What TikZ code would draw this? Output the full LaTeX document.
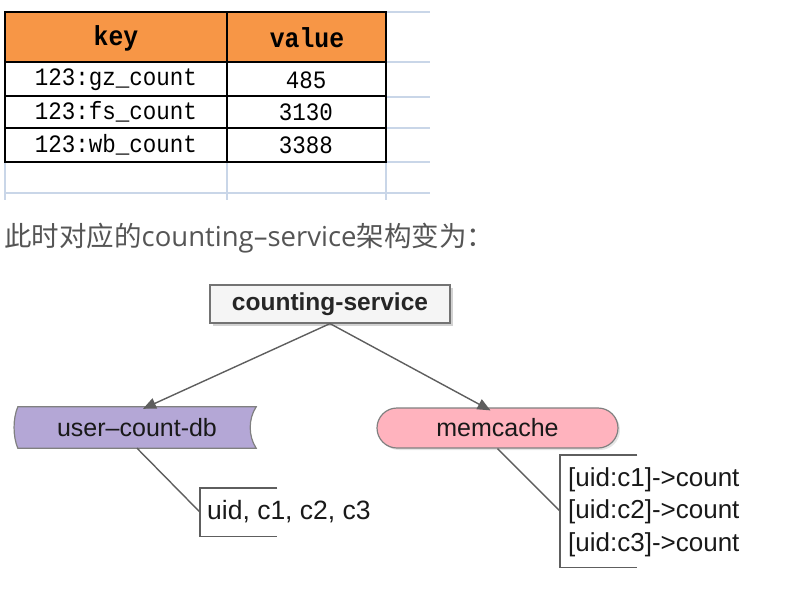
\documentclass[tikz,border=0pt]{standalone}
\usepackage{fontspec}
\setmainfont{Liberation Sans}
\newfontfamily\cjk{Noto Sans CJK SC}
\newfontfamily\capl{Open Sans}
\newfontfamily\monof[FakeStretch=0.9]{Liberation Mono}
\usetikzlibrary{arrows.meta,shadows,backgrounds}
\definecolor{hdr}{HTML}{F79646}
\definecolor{gridc}{HTML}{C9D6E8}
\definecolor{dbfill}{HTML}{B4A7D6}
\definecolor{mcfill}{HTML}{FFB3BE}
\definecolor{lnc}{HTML}{5E5E5E}
\definecolor{txtc}{HTML}{555555}
\tikzset{
  gridline/.style={draw=gridc,line width=1.5pt},
  tabouter/.style={draw=black,line width=2.6pt},
  tabinner/.style={draw=black,line width=1.4pt},
  hcell/.style={font=\monof\bfseries\fontsize{27.5}{27.5}\selectfont,inner sep=0pt},
  bcell/.style={font=\monof\fontsize{25}{25}\selectfont,inner sep=0pt},
  conn/.style={draw=lnc,line width=1.4pt},
  arr/.style={conn,-{Triangle[length=13pt,width=11pt]}},
  bracket/.style={draw=lnc,line width=1.4pt},
  dtext/.style={font=\fontsize{25}{25}\selectfont,text=black!90,inner sep=0pt},
}
\begin{document}
\begin{tikzpicture}[x=1pt,y=-1pt]
\useasboundingbox (0,0) rectangle (808,594);
% spreadsheet grid
\draw[gridline] (386,12) -- (430,12);
\draw[gridline] (386,62) -- (430,62);
\draw[gridline] (386,97) -- (430,97);
\draw[gridline] (386,128) -- (430,128);
\draw[gridline] (386,162) -- (430,162);
\draw[gridline] (5,193) -- (430,193);
\draw[gridline] (5,162) -- (5,200);
\draw[gridline] (227,162) -- (227,200);
\draw[gridline] (386,162) -- (386,200);
% table
\fill[hdr] (5,12) rectangle (386,62);
\draw[tabinner] (227,12) -- (227,162);
\draw[tabinner] (5,62) -- (386,62);
\draw[tabinner] (5,96) -- (386,96);
\draw[tabinner] (5,128) -- (386,128);
\draw[tabouter] (5,12) rectangle (386,162);
\node[hcell] (k0) at (116,38) {key};
\node[hcell] (v0) at (307,38) {value};
\node[bcell] (k1) at (116,80) {123:gz\_count};
\node[bcell] (v1) at (306,80) {485};
\node[bcell] (k2) at (116,112) {123:fs\_count};
\node[bcell] (v2) at (306,112) {3130};
\node[bcell] (k3) at (116,145) {123:wb\_count};
\node[bcell] (v3) at (306,145) {3388};
% caption line
\node[anchor=west,inner sep=0pt,text=txtc,font=\cjk\fontsize{27.5}{27.5}\selectfont] (cap) at (4,238)
  {此时对应的{\capl counting–service}架构变为：};
% diagram
\node[draw=black!55,line width=1.2pt,fill=black!4,minimum width=240pt,minimum height=38pt,inner sep=0pt,
  font=\bfseries\fontsize{24.5}{24.5}\selectfont,text=black!85,
  drop shadow={shadow xshift=2.5pt,shadow yshift=-2.5pt,fill=black!35}] (cs) at (330,304) {counting-service};
\node[dtext,minimum width=238pt,minimum height=41pt] (udb) at (137,427.5) {user–count-db};
\node[dtext,draw=black!50,line width=1.2pt,fill=mcfill,rounded corners=20pt,minimum width=241pt,minimum height=40pt,
  drop shadow={shadow xshift=2pt,shadow yshift=-2pt,fill=black!20}] (mc) at (497.5,428) {memcache};
\begin{scope}[on background layer]
\fill[black!20,xshift=2pt,yshift=-2pt] (udb.north west) -- (udb.north east)
  .. controls +(-8,12) and +(-8,-12) .. (udb.south east) -- (udb.south west)
  .. controls +(-5,-12) and +(-5,12) .. (udb.north west) -- cycle;
\filldraw[fill=dbfill,draw=black!50,line width=1.2pt] (udb.north west) -- (udb.north east)
  .. controls +(-8,12) and +(-8,-12) .. (udb.south east) -- (udb.south west)
  .. controls +(-5,-12) and +(-5,12) .. (udb.north west) -- cycle;
\end{scope}
\draw[arr] (cs.south) -- ([xshift=6pt,yshift=-2pt]udb.north);
\draw[arr] (cs.south) -- ([xshift=-7pt,yshift=-3pt]mc.north);
% notes
\node[minimum width=77pt,minimum height=48pt,inner sep=0pt,anchor=north west] (n1b) at (200,488) {};
\draw[bracket] (n1b.north east) -- (n1b.north west) -- (n1b.south west) -- (n1b.south east);
\node[dtext,anchor=west,font=\fontsize{26.5}{26.5}\selectfont] (n1) at (207,512) {uid, c1, c2, c3};
\draw[conn] (udb.south) -- (n1b.west);
\node[minimum width=77pt,minimum height=112pt,inner sep=0pt,anchor=north west] (n2b) at (560,455) {};
\draw[bracket] (n2b.north east) -- (n2b.north west) -- (n2b.south west) -- (n2b.south east);
\node[dtext,anchor=west,align=left,font=\fontsize{26}{32.5}\selectfont] (n2) at (568,512)
  {{[uid:c1]->count}\\{[uid:c2]->count}\\{[uid:c3]->count}};
\draw[conn] (mc.south) -- (n2b.west);
\end{tikzpicture}
\end{document}
